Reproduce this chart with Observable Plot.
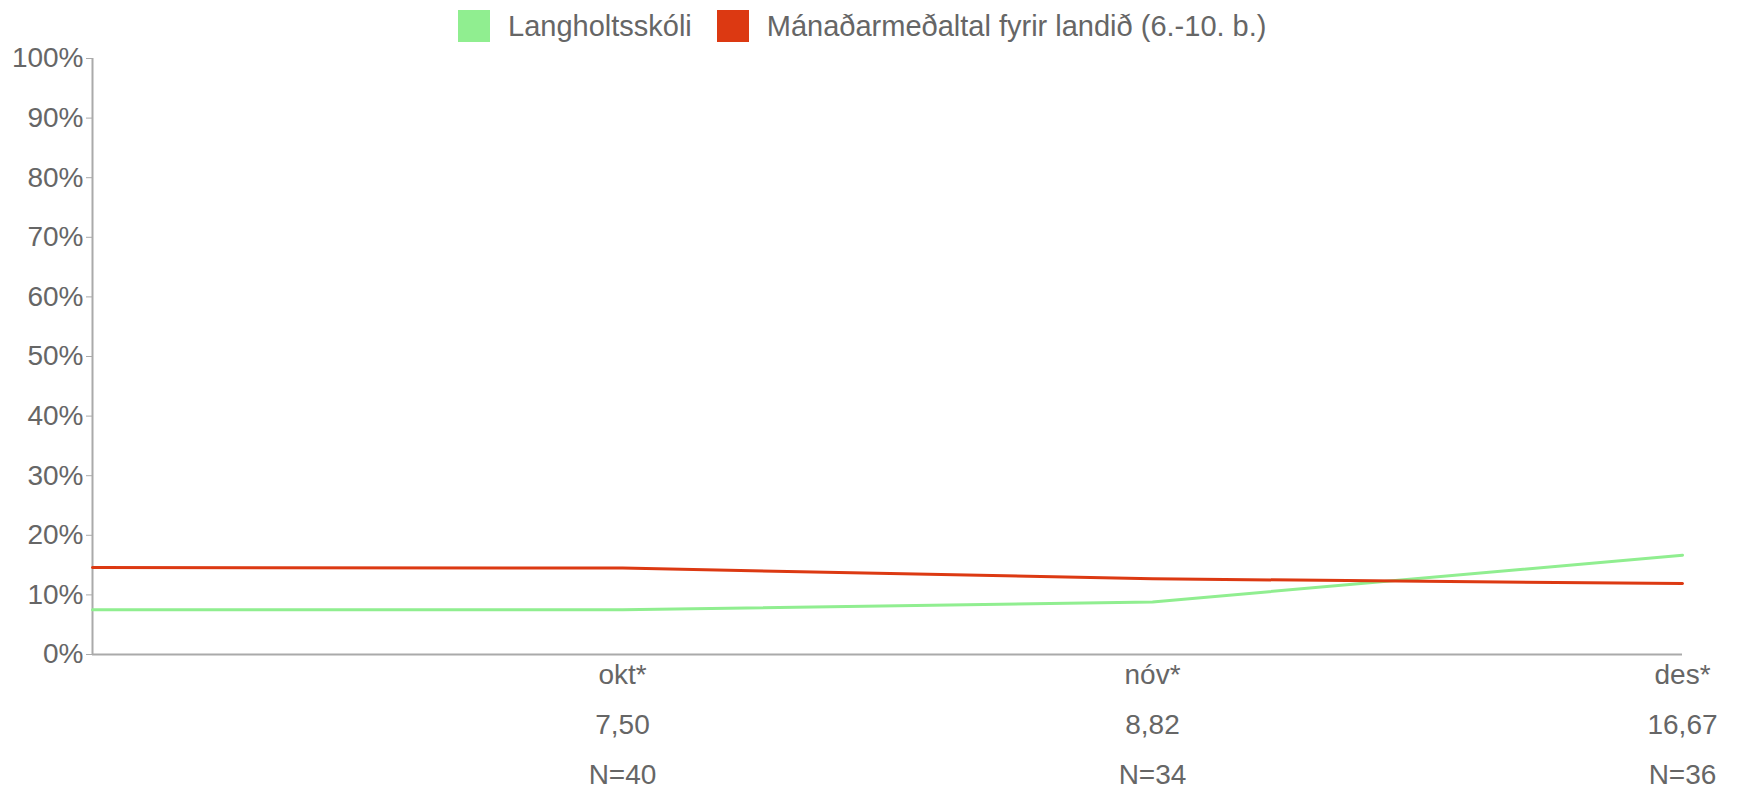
<!DOCTYPE html>
<html>
<head>
<meta charset="utf-8">
<script src="https://cdn.jsdelivr.net/npm/d3@7"></script>
<script src="https://cdn.jsdelivr.net/npm/@observablehq/plot@0.6"></script>
<style>
  html, body { margin: 0; padding: 0; background: #fff; }
  body { width: 1737px; height: 791px; overflow: hidden; font-family: "Liberation Sans", Arial, Helvetica, sans-serif; }
  #legend { position: relative; z-index: 1; height: 36px; display: flex; align-items: flex-start; padding-left: 458px; box-sizing: border-box; padding-top: 10px; }
  .item { display: flex; align-items: center; margin-right: 25px; }
  .sw { width: 32px; height: 32px; margin-right: 18px; }
  .lbl { font-size: 29px; color: #666; line-height: 32px; }
</style>
</head>
<body>
<div id="legend"></div>
<div id="chart"></div>
<script>
const months = ["", "okt*", "nóv*", "des*"];
const schoolValues = [7.5, 7.5, 8.82, 16.67];
const nationalValues = [14.6, 14.5, 12.7, 11.9];
const valueLabels = ["", "7,50", "8,82", "16,67"];
const nLabels = ["", "N=40", "N=34", "N=36"];
const seriesNames = ["Langholtsskóli", "Mánaðarmeðaltal fyrir landið (6.-10. b.)"];
const seriesColors = ["#90ee90", "#dc3912"];
const yTicks = [0, 10, 20, 30, 40, 50, 60, 70, 80, 90, 100];

const legend = document.getElementById("legend");
seriesNames.forEach((name, i) => {
  const it = document.createElement("div");
  it.className = "item";
  it.innerHTML = `<div class="sw" style="background:${seriesColors[i]}"></div><div class="lbl">${name}</div>`;
  legend.appendChild(it);
});

const data = [];
months.forEach((m, i) => {
  data.push({month: m, value: schoolValues[i], series: seriesNames[0]});
  data.push({month: m, value: nationalValues[i], series: seriesNames[1]});
});

const valueMap = new Map(months.map((m, i) => [m, valueLabels[i]]));
const nMap = new Map(months.map((m, i) => [m, nLabels[i]]));

const chart = Plot.plot({
  width: 1737,
  height: 755,
  marginTop: 22,
  marginBottom: 137,
  marginLeft: 92,
  marginRight: 55,
  style: {fontFamily: '"Liberation Sans", Arial, Helvetica, sans-serif', fontSize: "28px", color: "#666", background: "transparent"},
  x: {type: "point", domain: months, padding: 0},
  y: {domain: [0, 100]},
  color: {domain: seriesNames, range: seriesColors},
  marks: [
    Plot.axisY({ticks: yTicks, tickFormat: d => d + "%", tickSize: 6, tickPadding: 3, stroke: "#aaa", fill: "#666", label: null, fontSize: 28}),
    Plot.axisX({tickSize: 0, tickPadding: 10, tickFormat: d => d, fill: "#666", label: null, fontSize: 28}),
    Plot.axisX({tickSize: 0, tickPadding: 60, tickFormat: d => valueMap.get(d), fill: "#666", label: null, fontSize: 28}),
    Plot.axisX({tickSize: 0, tickPadding: 110, tickFormat: d => nMap.get(d), fill: "#666", label: null, fontSize: 28}),
    Plot.ruleX([months[0]], {stroke: "#aaa", strokeWidth: 2}),
    Plot.ruleY([0], {stroke: "#aaa", strokeWidth: 2}),
    Plot.line(data, {x: "month", y: "value", z: "series", stroke: "series", strokeWidth: 3, curve: "linear"})
  ]
});
document.getElementById("chart").appendChild(chart);
</script>
</body>
</html>
